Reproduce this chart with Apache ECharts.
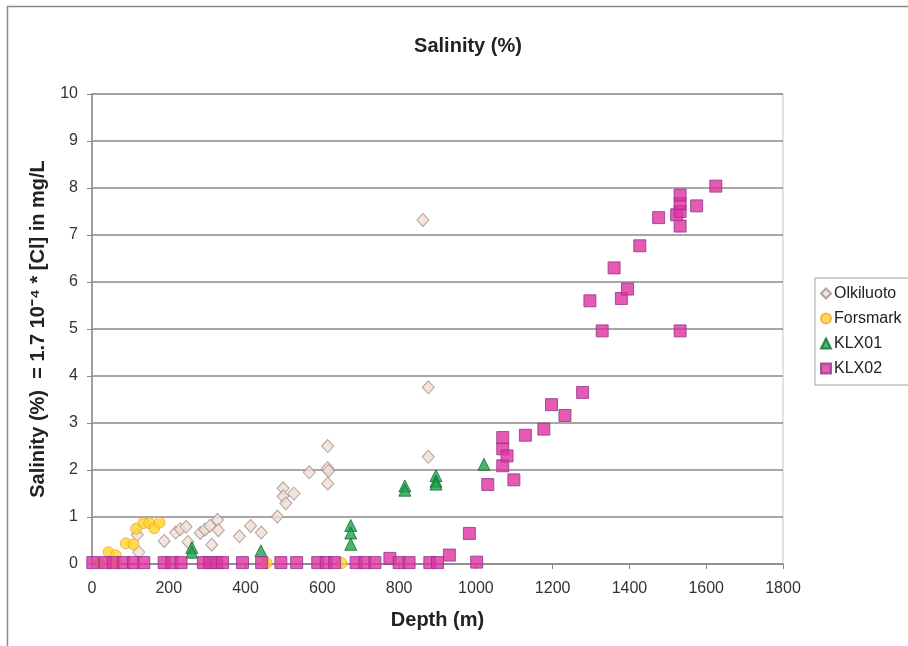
<!DOCTYPE html>
<html>
<head>
<meta charset="utf-8">
<script src="https://cdn.jsdelivr.net/npm/echarts@6/dist/echarts.min.js"></script>
<style>
  html, body { margin: 0; padding: 0; background: #fff; }
  #chart { width: 908px; height: 646px; }
</style>
</head>
<body>
<div id="chart"></div>
<script>
// [depth (m), salinity (%)]
const olkiluoto = [
  [118, 0.62], [122, 0.25], [188, 0.49], [218, 0.67], [230, 0.74], [245, 0.79],
  [250, 0.47], [282, 0.66], [294, 0.73], [307, 0.81], [312, 0.41], [327, 0.94],
  [329, 0.72], [384, 0.59], [413, 0.81], [441, 0.67], [483, 1.01], [498, 1.61],
  [498, 1.44], [505, 1.29], [526, 1.5], [566, 1.95], [614, 2.51], [614, 2.04],
  [616, 1.98], [614, 1.71], [862, 7.32], [876, 3.76], [876, 2.28]
];
const forsmark = [
  [20, 0.02], [43, 0.25], [62, 0.18], [62, 0.03], [88, 0.44], [108, 0.42],
  [115, 0.75], [134, 0.87], [149, 0.87], [162, 0.76], [176, 0.88], [455, 0.02],
  [650, 0.02]
];
const klx01 = [
  [260, 0.35], [260, 0.25], [440, 0.28], [674, 0.82], [674, 0.66], [674, 0.42],
  [815, 1.66], [815, 1.57], [896, 1.88], [896, 1.76], [896, 1.7], [1021, 2.12]
];
const klx02 = [
  [2, 0.03], [35, 0.03], [55, 0.03], [82, 0.03], [108, 0.03], [135, 0.03],
  [188, 0.03], [208, 0.03], [232, 0.03], [290, 0.03], [307, 0.03], [325, 0.03],
  [340, 0.03], [392, 0.03], [442, 0.03], [492, 0.03], [533, 0.03], [588, 0.03],
  [610, 0.03], [632, 0.03], [688, 0.03], [711, 0.03], [737, 0.03], [776, 0.12],
  [800, 0.03], [826, 0.03], [880, 0.03], [900, 0.03], [931, 0.19], [983, 0.65],
  [1002, 0.04], [1031, 1.69], [1070, 2.09], [1070, 2.45], [1070, 2.69], [1081, 2.3],
  [1099, 1.79], [1129, 2.74], [1177, 2.87], [1197, 3.39], [1232, 3.16], [1278, 3.65],
  [1297, 5.6], [1329, 4.96], [1360, 6.3], [1379, 5.65], [1395, 5.85], [1427, 6.77],
  [1476, 7.37], [1523, 7.43], [1532, 7.19], [1532, 7.5], [1532, 7.67], [1532, 7.85],
  [1532, 4.96], [1575, 7.62], [1625, 8.04]
];

const chart = echarts.init(document.getElementById("chart"));
const font = "Liberation Sans, Arial, sans-serif";

chart.setOption({
  backgroundColor: "#fff",
  animation: false,
  textStyle: { fontFamily: font },
  graphic: [
    {
      type: "rect",
      shape: { x: 7.5, y: 6.5, width: 960, height: 700 },
      style: { fill: "none", stroke: "#8a8a8a", lineWidth: 1.5 },
      silent: true,
    },
  ],
  title: {
    text: "Salinity (%)",
    left: 463,
    top: 31,
    textAlign: "center",
    textStyle: { fontFamily: font, fontSize: 20, fontWeight: "bold", color: "#222" },
  },
  legend: {
    orient: "vertical",
    left: 815,
    top: 278,
    itemWidth: 10,
    itemHeight: 10,
    itemGap: 8,
    padding: [7, 60, 8, 5],
    borderColor: "#a0a0a0",
    borderWidth: 1,
    textStyle: { fontFamily: font, fontSize: 16, lineHeight: 17, color: "#222", padding: [0, 0, 0, -2] },
    data: ["Olkiluoto", "Forsmark", "KLX01", "KLX02"],
  },
  grid: {
    left: 92,
    right: 125,
    top: 94,
    bottom: 82,
    show: true,
    borderColor: "#c4c4c4",
    borderWidth: 1,
  },
  xAxis: {
    type: "value",
    min: 0,
    max: 1800,
    interval: 200,
    name: "Depth (m)",
    nameLocation: "middle",
    nameGap: 46,
    nameTextStyle: { fontFamily: font, fontSize: 20, fontWeight: "bold", color: "#222" },
    axisLine: { show: true, lineStyle: { color: "#8a8a8a", width: 1.5 } },
    axisTick: { show: true, length: 5, lineStyle: { color: "#8a8a8a" } },
    axisLabel: {
      fontFamily: font,
      fontSize: 16,
      color: "#333",
      margin: 17,
      formatter: (v) => String(v),
    },
    splitLine: { show: false },
  },
  yAxis: {
    type: "value",
    min: 0,
    max: 10,
    interval: 1,
    name: "Salinity (%)  = 1.7 10\u207B\u2074 * [Cl] in mg/L",
    nameLocation: "middle",
    nameGap: 44,
    nameTextStyle: { fontFamily: font, fontSize: 20, fontWeight: "bold", color: "#222" },
    axisLine: { show: true, lineStyle: { color: "#8a8a8a", width: 1.5 } },
    axisTick: { show: true, length: 5, lineStyle: { color: "#8a8a8a" } },
    axisLabel: { fontFamily: font, fontSize: 16, color: "#333", margin: 14 },
    splitLine: { show: true, lineStyle: { color: "#8a8a8a", width: 1.5 } },
  },
  series: [
    {
      name: "Olkiluoto",
      type: "scatter",
      symbol: "diamond",
      symbolSize: [12, 13],
      data: olkiluoto,
      itemStyle: { color: "#f3ddd2", borderColor: "#9c8f8f", borderWidth: 1 },
    },
    {
      name: "Forsmark",
      type: "scatter",
      symbol: "circle",
      symbolSize: 11,
      data: forsmark,
      itemStyle: { color: "#ffd428", borderColor: "#f0a43a", borderWidth: 1 },
    },
    {
      name: "KLX01",
      type: "scatter",
      symbol: "triangle",
      symbolSize: [12, 12],
      data: klx01,
      itemStyle: { color: "#1ea34a", borderColor: "#0f6e30", borderWidth: 1 },
    },
    {
      name: "KLX02",
      type: "scatter",
      symbol: "rect",
      symbolSize: 12,
      data: klx02,
      itemStyle: { color: "#e0329f", borderColor: "#8f3590", borderWidth: 1 },
    },
  ],
});
</script>
</body>
</html>
